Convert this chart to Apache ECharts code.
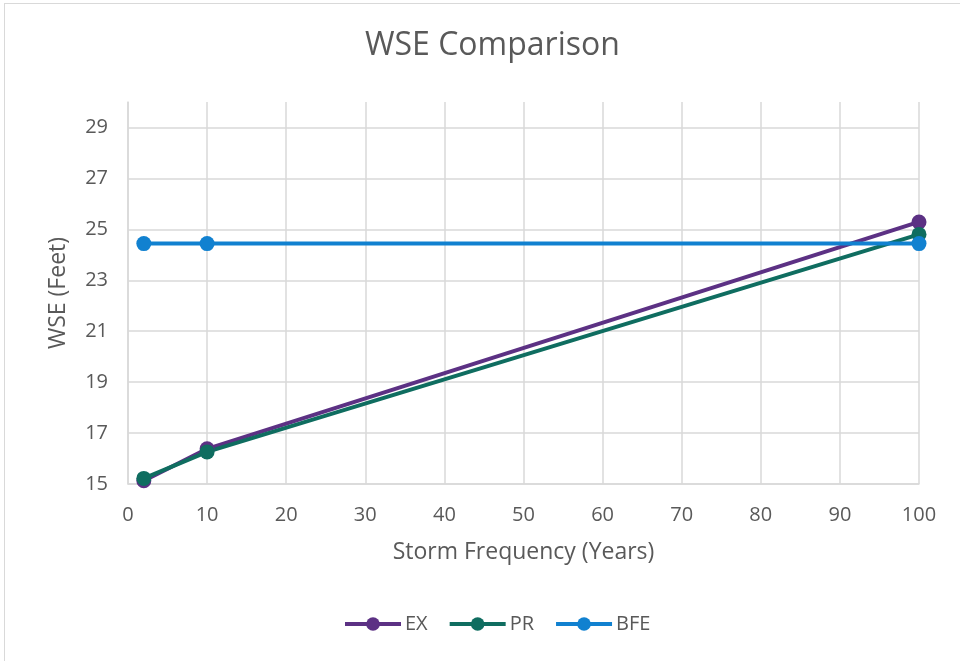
<!DOCTYPE html>
<html>
<head>
<meta charset="utf-8">
<script src="https://cdn.jsdelivr.net/npm/echarts@6/dist/echarts.min.js"></script>
<style>
  html, body { margin: 0; padding: 0; background: #fff; }
  #frame { position: absolute; left: 4px; top: 3px; width: 960px; height: 670px; border: 1px solid #d9d9d9; box-sizing: border-box; }
  #chart { position: absolute; left: 0; top: 0; width: 960px; height: 661px; }
</style>
</head>
<body>
<div id="frame"></div>
<div id="chart"></div>
<script>
const years = [2, 10, 100];
const exValues = [15.13, 16.38, 25.29];
const prValues = [15.22, 16.26, 24.8];
const bfeValues = [24.44, 24.44, 24.44];

const FONT = "'Open Sans', 'Noto Sans', sans-serif";
const TEXT = "#595959";

const pairs = vals => years.map((x, i) => [x, vals[i]]);

// 15..29 step 2 plus the max line at 30, which stays hidden
const hLineColors = ["#d9d9d9", "#d9d9d9", "#d9d9d9", "#d9d9d9", "#d9d9d9", "#d9d9d9", "#d9d9d9", "#d9d9d9", "rgba(0,0,0,0)"];

const mkSeries = (name, vals, color) => ({
  name,
  type: "line",
  data: pairs(vals),
  symbol: "circle",
  symbolSize: 15,
  lineStyle: { width: 4, color },
  itemStyle: { color },
  emphasis: { disabled: true },
  z: 3
});

const chart = echarts.init(document.getElementById("chart"));
chart.setOption({
  animation: false,
  backgroundColor: "transparent",
  title: {
    text: "WSE Comparison",
    left: 360,
    top: 25,
    textStyle: { fontFamily: FONT, fontSize: 32, fontWeight: "normal", color: TEXT }
  },
  legend: {
    bottom: 22,
    left: 338,
    itemWidth: 56,
    itemHeight: 17,
    itemGap: 20,
    lineStyle: { width: 4 },
    textStyle: { fontFamily: FONT, fontSize: 20, color: TEXT, padding: [0, 0, 0, -1] },
    data: ["EX", "PR", "BFE"]
  },
  grid: { left: 128, right: 41, top: 102, bottom: 177 },
  xAxis: {
    type: "value",
    min: 0,
    max: 100,
    interval: 10,
    name: "Storm Frequency (Years)",
    nameLocation: "middle",
    nameGap: 57,
    nameTextStyle: { fontFamily: FONT, fontSize: 23, color: TEXT },
    axisLine: { show: true, lineStyle: { color: "#d9d9d9", width: 1.5 } },
    axisTick: { show: false },
    axisLabel: { fontFamily: FONT, fontSize: 20, color: TEXT, margin: 21 },
    splitLine: { show: true, lineStyle: { color: "#d9d9d9", width: 1.5 } }
  },
  yAxis: {
    type: "value",
    min: 15,
    max: 30,
    interval: 2,
    name: "WSE (Feet)",
    nameLocation: "middle",
    nameGap: 58,
    nameTextStyle: { fontFamily: FONT, fontSize: 23, color: TEXT },
    axisLine: { show: true, lineStyle: { color: "#d9d9d9", width: 1.5 } },
    axisTick: { show: false },
    axisLabel: { fontFamily: FONT, fontSize: 20, color: TEXT, margin: 20, showMaxLabel: false },
    splitLine: { show: true, lineStyle: { color: hLineColors, width: 1.5 } }
  },
  series: [
    mkSeries("EX", exValues, "#5c3184"),
    mkSeries("PR", prValues, "#0f6d60"),
    mkSeries("BFE", bfeValues, "#1181d0")
  ]
});
</script>
</body>
</html>
